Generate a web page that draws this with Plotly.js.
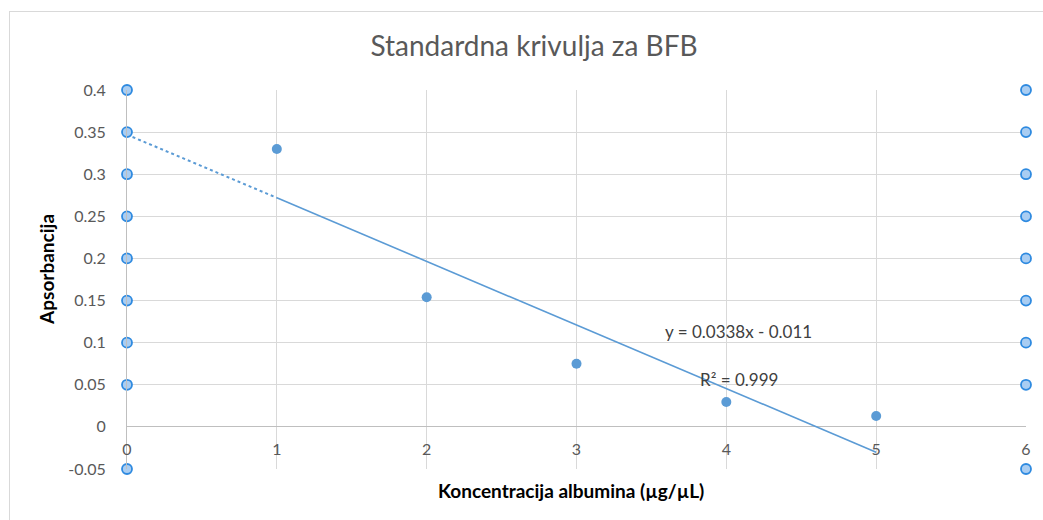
<!DOCTYPE html>
<html>
<head>
<meta charset="utf-8">
<script src="https://cdn.plot.ly/plotly-3.0.1.min.js"></script>
<style>
html,body{margin:0;padding:0;background:#fff;overflow:hidden;}
#frame{position:absolute;left:9px;top:11px;width:1100px;height:600px;border:1px solid #d9d9d9;box-sizing:border-box;}
#chart{position:absolute;left:0;top:0;width:1043px;height:520px;}
</style>
</head>
<body>
<div id="frame"></div>
<div id="chart"></div>
<script>
// Data
const concentration = [1, 2, 3, 4, 5];
const absorbance = [0.33, 0.154, 0.075, 0.0295, 0.013];

// Trendline
const trendDottedX = [0, 1];
const trendDottedY = [0.347, 0.272];
const trendSolidX = [1, 5];
const trendSolidY = [0.272, -0.03];

// Axis tick values / labels
const yTickVals = [0.4, 0.35, 0.3, 0.25, 0.2, 0.15, 0.1, 0.05, 0, -0.05];
const yTickText = ["0.4", "0.35", "0.3", "0.25", "0.2", "0.15", "0.1", "0.05", "0", "-0.05"];
const xTickVals = [0, 1, 2, 3, 4, 5, 6];

// Hollow-circle marker series on the side axes (no marker at 0)
const sideY = [0.4, 0.35, 0.3, 0.25, 0.2, 0.15, 0.1, 0.05, -0.05];
const sideLeftX = sideY.map(() => 0);
const sideRightX = sideY.map(() => 6);

const titleText = "Standardna krivulja za BFB";
const xTitleText = "Koncentracija albumina (µg/µL)";
const yTitleText = "Apsorbancija";
const equationText = "y = 0.0338x - 0.011";
const r2Text = "R² = 0.999";

const blue = "#5b9bd5";
const font = "Lato, 'Open Sans', sans-serif";

const sideMarker = {color: "#a9cdf2", size: 10, line: {color: "#2e8ae0", width: 1.8}};

const traces = [
  {x: trendDottedX, y: trendDottedY, mode: "lines", line: {color: blue, width: 2, dash: "dot"}, hoverinfo: "skip", cliponaxis: false},
  {x: trendSolidX, y: trendSolidY, mode: "lines", line: {color: blue, width: 1.6}, hoverinfo: "skip", cliponaxis: false},
  {x: concentration, y: absorbance, mode: "markers", marker: {color: blue, size: 10}, cliponaxis: false},
  {x: sideLeftX, y: sideY, mode: "markers", marker: sideMarker, cliponaxis: false},
  {x: sideRightX, y: sideY, mode: "markers", marker: sideMarker, cliponaxis: false}
];

const layout = {
  width: 1043, height: 520,
  margin: {l: 127, r: 17, t: 90, b: 51},
  paper_bgcolor: "rgba(0,0,0,0)",
  plot_bgcolor: "rgba(0,0,0,0)",
  showlegend: false,
  font: {family: font, color: "#595959", size: 16},
  title: {text: titleText, x: 0.512, xref: "container", xanchor: "center", y: 0.9115, yref: "container", yanchor: "middle",
          font: {family: font, size: 28, color: "#595959"}},
  xaxis: {
    range: [0, 6], tickvals: xTickVals, ticktext: xTickVals.map(String),
    showgrid: true, gridcolor: "#d9d9d9", gridwidth: 1,
    zeroline: false, showline: false, ticks: "",
    anchor: "free", position: 0.05 / 0.45,
    ticklabelstandoff: 11,
    tickfont: {family: font, size: 16, color: "#595959"},
    fixedrange: true
  },
  yaxis: {
    range: [-0.05, 0.4], tickvals: yTickVals, ticktext: yTickText,
    showgrid: true, gridcolor: "#d9d9d9", gridwidth: 1,
    zeroline: true, zerolinecolor: "#bfbfbf", zerolinewidth: 1,
    showline: true, linecolor: "#bfbfbf", linewidth: 1, ticks: "",
    ticklabelstandoff: 17,
    tickfont: {family: font, size: 16, color: "#595959"},
    fixedrange: true
  },
  annotations: [
    {text: "<b>" + xTitleText + "</b>", xref: "paper", yref: "paper", x: 0.494, y: -0.058, xanchor: "center", yanchor: "middle",
     showarrow: false, font: {family: font, size: 19, color: "#000"}},
    {text: "<b>" + yTitleText + "</b>", xref: "paper", yref: "paper", x: -0.089, y: 0.528, xanchor: "center", yanchor: "middle",
     textangle: -90, showarrow: false, font: {family: font, size: 19, color: "#000"}},
    {text: equationText, xref: "x", yref: "y", x: 4.078, y: 0.113, xanchor: "center", yanchor: "middle",
     showarrow: false, font: {family: font, size: 17, color: "#404040"}},
    {text: r2Text, xref: "x", yref: "y", x: 4.085, y: 0.0557, xanchor: "center", yanchor: "middle",
     showarrow: false, font: {family: font, size: 17, color: "#404040"}}
  ]
};

Plotly.newPlot("chart", traces, layout, {displayModeBar: false, staticPlot: true});
</script>
</body>
</html>
